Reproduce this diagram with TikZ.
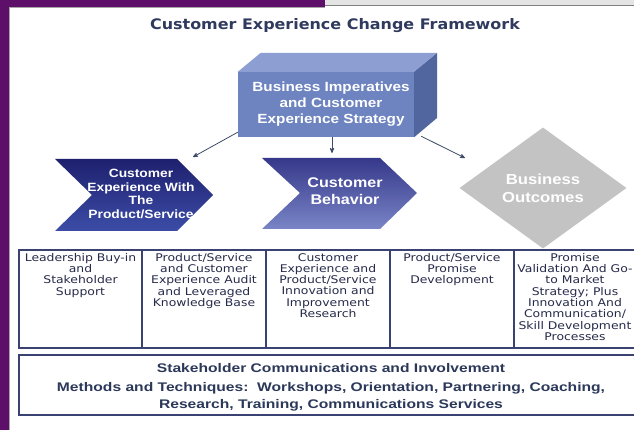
\documentclass[tikz,border=0pt]{standalone}
\usepackage{fontspec}
\usetikzlibrary{positioning}
\usetikzlibrary{arrows}
\usetikzlibrary{shapes.geometric}

\newfontfamily\headfont[FakeStretch=1.1]{DejaVu Sans}
\newfontfamily\boldfont[FakeStretch=1.15]{Liberation Sans}
\newfontfamily\bandfont[FakeStretch=1.25]{Liberation Sans}
\newfontfamily\cellfont[FakeStretch=1.17]{DejaVu Sans}

\definecolor{slidepurple}{HTML}{5E0F6A}
\definecolor{stripgray}{HTML}{E4E4E4}
\definecolor{titleblue}{HTML}{2F3A5E}
\definecolor{frontblue}{HTML}{6E84C0}
\definecolor{topblue}{HTML}{8D9ED2}
\definecolor{sideblue}{HTML}{51659F}
\definecolor{navytop}{HTML}{1E206E}
\definecolor{navybot}{HTML}{3C4DA7}
\definecolor{violettop}{HTML}{36388A}
\definecolor{violetbot}{HTML}{7985C6}
\definecolor{outgray}{HTML}{C3C3C3}
\definecolor{framenavy}{HTML}{3A4272}
\definecolor{celltext}{HTML}{262B4A}
\definecolor{bandtext}{HTML}{2B3859}
\definecolor{linkgray}{HTML}{3E4A68}

\begin{document}
\begin{tikzpicture}[x=1pt,y=-1pt,>=stealth',
    link/.style={->,draw=linkgray,line width=0.8pt},
    frame/.style={draw=framenavy,line width=1.4pt},
    title text/.style={font=\headfont\bfseries\fontsize{14.5}{17}\selectfont,text=titleblue},
    box text/.style={align=center,text=white,font=\boldfont\bfseries\fontsize{13.3}{16}\selectfont},
    chev text/.style={align=center,text=white,inner sep=0pt,font=\boldfont\bfseries\fontsize{12}{13.7}\selectfont},
    chev big/.style={align=center,text=white,inner sep=0pt,font=\boldfont\bfseries\fontsize{14}{17}\selectfont},
    outcome/.style={diamond,fill=outgray,minimum width=167,minimum height=121,inner sep=0pt,
                    align=center,text=white,font=\boldfont\bfseries\fontsize{14.5}{18}\selectfont},
    cell text/.style={anchor=north,align=center,inner sep=0pt,text=celltext,
                      font=\cellfont\fontsize{10.6}{11.3}\selectfont},
    band text/.style={align=center,inner sep=0pt,text=bandtext,
                      font=\bandfont\bfseries\fontsize{12.5}{17}\selectfont}]

  \useasboundingbox (0,0) rectangle (634,430);

  % slide background
  \fill[white] (9,6) rectangle (634,430);
  \fill[stripgray] (325,0) rectangle (634,5);
  \draw[gray,line width=1pt] (325,5.5) -- (634,5.5);
  \fill[slidepurple] (0,0) rectangle (325,7);
  \fill[slidepurple] (0,0) rectangle (9,430);
  \draw[gray!70,line width=0.6pt] (9.3,430) -- (9.3,7.3) -- (325,7.3);

  \node[title text] (title) at (335,26) {Customer Experience Change Framework};

  % the block on top
  \node[fill=frontblue,minimum width=176,minimum height=65,inner sep=0pt] (biz) at (326,104.5) {};
  \fill[topblue] (biz.north west) -- ++(23,-19) -- ++(176,0) -- (biz.north east) -- cycle;
  \fill[sideblue] (biz.north east) -- ++(23,-19) -- ++(0,65) -- (biz.south east) -- cycle;
  \node[box text] (biztext) at ([xshift=5pt]biz.center) {Business Imperatives\\and Customer\\Experience Strategy};

  % chevrons and diamond
  \shade[top color=navytop,bottom color=navybot]
    (55,159) -- (177,159) -- (213,195) -- (177,231) -- (55,231) -- (92,195) -- cycle;
  \shade[top color=violettop,bottom color=violetbot]
    (262,158) -- (380,158) -- (417,193) -- (380,229) -- (262,229) -- (300,193) -- cycle;
  \node[chev text] (expnode) at (141,194) {Customer\\Experience With\\The\\Product/Service};
  \node[chev big] (behave) at (345,191) {Customer\\Behavior};
  \node[outcome] (outc) at (543,188) {Business\\Outcomes};

  \coordinate (ch1end) at (193,157);
  \coordinate (ch2end) at (332,153);
  \coordinate (outend) at (465,158);

  \path
    ([yshift=5pt]biz.south west) edge[link] (ch1end)
    ([xshift=6pt]biz.south) edge[link] (ch2end)
    ([xshift=7pt,yshift=1pt]biz.south east) edge[link] (outend);

  % table of activities
  \draw[frame] (19,250) rectangle (638,348);
  \foreach \x in {142,266,390,514}
    \draw[frame] (\x,250) -- (\x,348);

  \node[cell text] (lead) at (80.5,253) {Leadership Buy-in\\and\\Stakeholder\\Support};
  \node[cell text] (audit) at (204,253) {Product/Service\\and Customer\\Experience Audit\\and Leveraged\\Knowledge Base};
  \node[cell text] (innov) at (328,253) {Customer\\Experience and\\Product/Service\\Innovation and\\Improvement\\Research};
  \node[cell text] (promise) at (452,253) {Product/Service\\Promise\\Development};
  \node[cell text] (golive) at (575,253) {Promise\\Validation And Go-\\to Market\\Strategy; Plus\\Innovation And\\Communication/\\Skill Development\\Processes};

  % bottom band
  \draw[frame] (19,355) rectangle (638,415);
  \node[band text] (stake) at (331,368) {Stakeholder Communications and Involvement};
  \node[band text] (methods) at (331,396.5) {Methods and Techniques:\ \ Workshops, Orientation, Partnering, Coaching,\\Research, Training, Communications Services};

\end{tikzpicture}
\end{document}
